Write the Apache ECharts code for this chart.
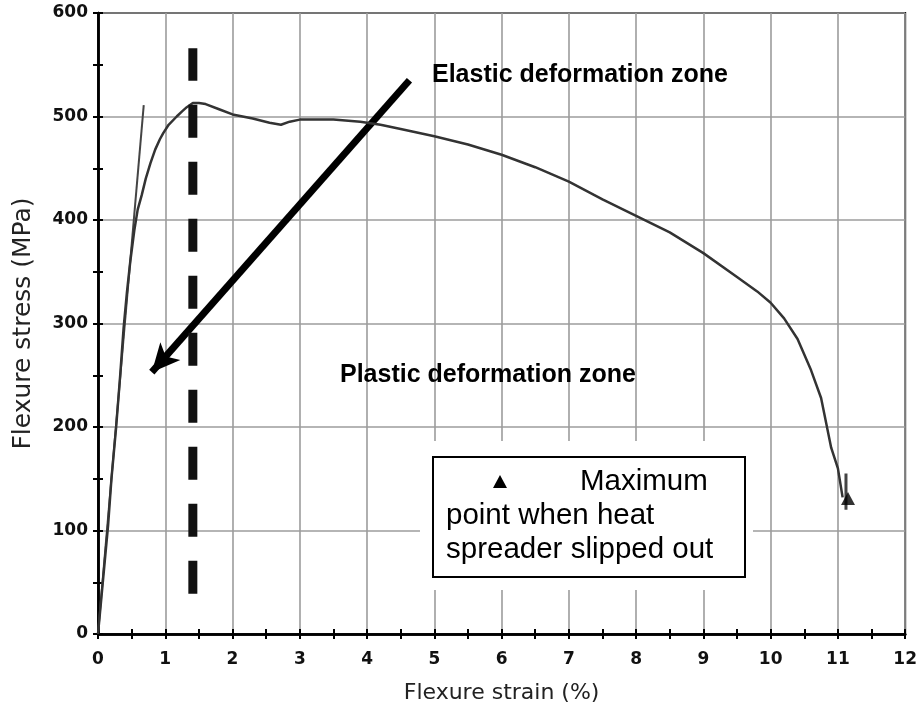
<!DOCTYPE html>
<html>
<head>
<meta charset="utf-8">
<script src="https://cdn.jsdelivr.net/npm/echarts@6/dist/echarts.min.js"></script>
<style>html,body{margin:0;padding:0;background:#fff}#c{width:920px;height:715px}</style>
</head>
<body>
<div id="c"></div>
<script>
// Main stress-strain curve
const mainStrain = [0,0.05,0.1,0.15,0.2,0.27,0.33,0.38,0.43,0.48,0.54,0.59,0.65,0.71,0.78,0.85,0.92,0.97,1.05,1.17,1.25,1.32,1.41,1.5,1.6,1.8,2.0,2.3,2.55,2.72,2.85,3.0,3.5,3.9,4.2,4.5,5.0,5.5,6.0,6.5,7.0,7.5,8.0,8.5,9.0,9.5,9.8,10.0,10.2,10.4,10.6,10.75,10.9,11.0,11.07];
const mainStress = [0,35,70,105,150,200,250,295,330,360,390,410,424,440,455,468,478,484,492,500,505,509,513,513,512,507,502,498,494,492,495,497,497,495,492,488,481,473,463,451,437,420,404,388,368,345,331,320,305,285,255,228,180,160,132];
// Elastic straight line
const elasticStrain = [0, 0.68];
const elasticStress = [0, 511];
// Vertical dashed line at peak
const dashStrain = [1.41, 1.41];
const dashStress = [39, 566];
// Arrow (start -> end)
const arrowStart = [4.63, 535];
const arrowEnd = [0.80, 253];
// Error bar & maximum point
const errStrain = [11.12, 11.12];
const errStress = [120, 155];
const maxPoint = [11.15, 131];
// Axis ranges
const xMin = 0, xMax = 12, xStep = 1;
const yMin = 0, yMax = 600, yStep = 100;
// Text
const xTitle = 'Flexure strain (%)';
const yTitle = 'Flexure stress (MPa)';
const elasticLabel = 'Elastic deformation zone';
const plasticLabel = 'Plastic deformation zone';
const legendLines = ['Maximum', 'point when heat', 'spreader slipped out'];

const zip = (a, b) => a.map((v, i) => [v, b[i]]);

const chart = echarts.init(document.getElementById('c'), null, {renderer: 'canvas'});
const tickFont = {fontFamily: 'DejaVu Sans', fontWeight: 'bold', fontSize: 17, color: '#111'};
const gridLine = {show: true, lineStyle: {color: '#9c9c9c', width: 1.6}};
const axisLn = {show: true, onZero: false, lineStyle: {color: '#000', width: 2.5}};
const tickStyle = {color: '#000', width: 2};

chart.setOption({
  animation: false,
  backgroundColor: '#fff',
  grid: {left: 98, right: 14, top: 13, bottom: 81, show: true, borderColor: '#000', borderWidth: 2, backgroundColor: 'transparent'},
  xAxis: [{
    type: 'value', min: xMin, max: xMax, interval: xStep,
    name: xTitle, nameLocation: 'middle', nameGap: 48,
    nameTextStyle: {fontFamily: 'DejaVu Sans', fontSize: 22, color: '#222'},
    axisLine: axisLn,
    axisTick: {show: true, inside: false, length: 5, lineStyle: tickStyle},
    minorTick: {show: true, splitNumber: 2, length: 5, lineStyle: tickStyle},
    axisLabel: Object.assign({margin: 17}, tickFont),
    splitLine: gridLine
  }, {
    type: 'value', min: xMin, max: xMax, interval: xStep, position: 'bottom', offset: 0,
    axisLine: {show: true, onZero: false, lineStyle: {color: '#000', width: 2.5}},
    axisTick: {show: true, inside: true, length: 5, lineStyle: tickStyle},
    minorTick: {show: true, splitNumber: 2, length: 5, lineStyle: tickStyle},
    axisLabel: {show: false}, splitLine: {show: false}
  }],
  yAxis: [{
    type: 'value', min: yMin, max: yMax, interval: yStep,
    name: yTitle, nameLocation: 'middle', nameGap: 62,
    nameTextStyle: {fontFamily: 'DejaVu Sans', fontSize: 25, color: '#222'},
    axisLine: axisLn,
    axisTick: {show: true, inside: false, length: 5, lineStyle: tickStyle},
    minorTick: {show: true, splitNumber: 2, length: 5, lineStyle: tickStyle},
    axisLabel: Object.assign({margin: 10}, tickFont),
    splitLine: gridLine
  }, {
    type: 'value', min: yMin, max: yMax, interval: yStep, position: 'left', offset: 0,
    axisLine: {show: true, onZero: false, lineStyle: {color: '#000', width: 2.5}},
    axisTick: {show: true, inside: true, length: 5, lineStyle: tickStyle},
    minorTick: {show: true, splitNumber: 2, length: 5, lineStyle: tickStyle},
    axisLabel: {show: false}, splitLine: {show: false}
  }],
  series: [
    {type: 'line', data: zip(mainStrain, mainStress), showSymbol: false, smooth: false,
     lineStyle: {color: '#333', width: 2.5, join: 'round'}, z: 5},
    {type: 'line', data: zip(elasticStrain, elasticStress), showSymbol: false,
     lineStyle: {color: '#444', width: 2}, z: 4},
    {type: 'line', data: zip(dashStrain, dashStress), showSymbol: false,
     lineStyle: {color: '#111', width: 9, type: [33, 24], cap: 'butt'}, z: 6},
    {type: 'line', data: zip(errStrain, errStress), showSymbol: false,
     lineStyle: {color: '#444', width: 3}, z: 5},
    {type: 'scatter', data: [maxPoint], symbol: 'triangle', symbolSize: [14, 13],
     itemStyle: {color: '#000'}, z: 7},
    {type: 'line', data: [], z: 8,
     markLine: {silent: true, symbol: ['none', 'arrow'], symbolSize: [20, 28],
       label: {show: false},
       lineStyle: {color: '#000', width: 7, type: 'solid'},
       data: [[{coord: arrowStart}, {coord: arrowEnd}]]}}
  ],
  graphic: [
    {type: 'text', left: 432, top: 63, z: 100,
     style: {text: elasticLabel, fontFamily: 'Liberation Sans', fontWeight: 'bold', fontSize: 25, fill: '#000'}},
    {type: 'text', left: 340, top: 363, z: 100,
     style: {text: plasticLabel, fontFamily: 'Liberation Sans', fontWeight: 'bold', fontSize: 25, fill: '#000'}},
    {type: 'rect', shape: {x: 420, y: 441, width: 333, height: 149}, z: 100,
     style: {fill: '#fff'}},
    {type: 'rect', shape: {x: 433, y: 457, width: 312, height: 120}, z: 101,
     style: {fill: '#fff', stroke: '#000', lineWidth: 2}},
    {type: 'polygon', shape: {points: [[500, 475], [493, 488], [507, 488]]}, z: 102,
     style: {fill: '#000'}},
    {type: 'text', left: 580, top: 467, z: 102,
     style: {text: legendLines[0], fontFamily: 'Liberation Sans', fontSize: 29.5, fill: '#000'}},
    {type: 'text', left: 446, top: 501, z: 102,
     style: {text: legendLines[1], fontFamily: 'Liberation Sans', fontSize: 29.5, fill: '#000'}},
    {type: 'text', left: 446, top: 535, z: 102,
     style: {text: legendLines[2], fontFamily: 'Liberation Sans', fontSize: 29.5, fill: '#000'}}
  ]
});
</script>
</body>
</html>
